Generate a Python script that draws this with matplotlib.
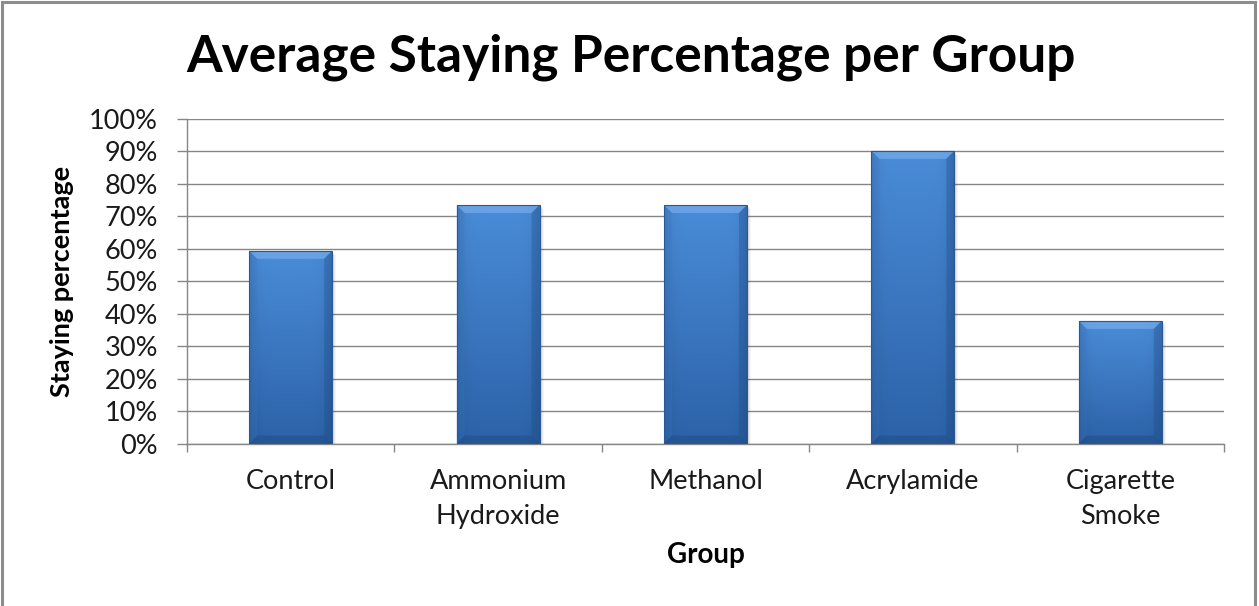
import numpy as np
import matplotlib.pyplot as plt
from matplotlib.patches import Polygon, Rectangle
from matplotlib.ticker import MultipleLocator, PercentFormatter

groups = ['Control', 'Ammonium\nHydroxide', 'Methanol', 'Acrylamide', 'Cigarette\nSmoke']
staying = [59.4, 73.5, 73.5, 90.2, 37.8]

TOP_BLUE = np.array([0x4a, 0x8c, 0xd8]) / 255.0
BOTTOM_BLUE = np.array([0x2c, 0x62, 0xa8]) / 255.0

plt.rcParams['font.family'] = ['Lato', 'DejaVu Sans']


def bar_gradient(n=200):
    # vertical light-to-dark ramp, darker along the side edges
    t = np.linspace(0, 1, n)[:, None]
    col = TOP_BLUE[None, None, :] * (1 - t[..., None]) + BOTTOM_BLUE[None, None, :] * t[..., None]
    x = np.linspace(-1, 1, 60)[None, :]
    shade = 1.0 - 0.12 * np.abs(x) ** 6
    return np.clip(col * shade[..., None], 0, 1)


def draw_bevel(ax, x0, w, h, dx, dy):
    x1 = x0 + w
    # top facet
    ax.add_patch(Polygon([[x0, h], [x1, h], [x1 - dx, h - dy], [x0 + dx, h - dy]],
                         closed=True, facecolor='#7fb3ee', alpha=0.6, lw=0, zorder=4))
    # side facets
    ax.add_patch(Polygon([[x0, 0], [x0, h], [x0 + dx, h - dy], [x0 + dx, dy]],
                         closed=True, facecolor='#3a78c4', alpha=0.25, lw=0, zorder=4))
    ax.add_patch(Polygon([[x1, 0], [x1, h], [x1 - dx, h - dy], [x1 - dx, dy]],
                         closed=True, facecolor='#1f4f8c', alpha=0.35, lw=0, zorder=4))
    # bottom facet
    ax.add_patch(Polygon([[x0, 0], [x1, 0], [x1 - dx, dy], [x0 + dx, dy]],
                         closed=True, facecolor='#1d4a82', alpha=0.45, lw=0, zorder=4))


fig = plt.figure(figsize=(12.59, 6.06), dpi=100)
ax = fig.add_axes([0.1485, 0.268, 0.8237, 0.5356])

xpos = np.arange(len(groups))
bw = 0.4
bars = ax.bar(xpos, staying, width=bw, color='none', edgecolor='#2a5894', lw=0.8, zorder=5)

ax.set_xlim(-0.5, len(groups) - 0.5)
ax.set_ylim(0, 100)

# bevel sizes in data units (~8 px wide)
px_x = (len(groups)) / (1224 - 187)
px_y = 100 / (443.5 - 119)
grad = bar_gradient()
for b, v in zip(bars, staying):
    x0 = b.get_x()
    # soft drop shadow to the right
    for k, a in [(4, 0.05), (3, 0.07), (2, 0.09)]:
        ax.add_patch(Rectangle((x0 + k * px_x, 0), bw, v - k * px_y, facecolor='#505050',
                               alpha=a, lw=0, zorder=2))
    im = ax.imshow(grad, extent=[x0, x0 + bw, 0, v], aspect='auto', origin='upper',
                   interpolation='bilinear', zorder=3)
    im.set_clip_path(b)
    draw_bevel(ax, x0, bw, v, 8 * px_x, 8 * px_y)

ax.yaxis.set_major_locator(MultipleLocator(10))
ax.yaxis.set_major_formatter(PercentFormatter(decimals=0))
ax.grid(axis='y', color='#868686', lw=1.0, zorder=0)
ax.set_axisbelow(True)

ax.set_xticks(xpos)
ax.set_xticklabels(groups, fontsize=19.5, color='#1a1a1a', linespacing=1.5)
ax.set_xticks(np.arange(len(groups) + 1) - 0.5, minor=True)
ax.tick_params(axis='x', which='major', length=0, pad=18)
ax.tick_params(axis='x', which='minor', length=6, color='#868686', width=1)
ax.tick_params(axis='y', length=7, color='#868686', width=1, labelsize=19.5,
               labelcolor='#1a1a1a', pad=14)

for side in ['top', 'right']:
    ax.spines[side].set_visible(False)
for side in ['left', 'bottom']:
    ax.spines[side].set_color('#868686')
    ax.spines[side].set_linewidth(1.0)

ax.set_ylabel('Staying percentage', fontsize=19.5, fontweight='bold', labelpad=11)
ax.set_xlabel('Group', fontsize=20, fontweight='bold', labelpad=10)

fig.text(0.501, 0.906, 'Average Staying Percentage per Group', fontsize=37,
         fontweight='bold', ha='center', va='center')

# grey frame around the chart area
fig.add_artist(Rectangle((0.0015, -0.05), 0.9955, 1.047, transform=fig.transFigure,
                         facecolor='none', edgecolor='#8c8c8c', lw=2.2))

fig.savefig('out.png', dpi=100)
